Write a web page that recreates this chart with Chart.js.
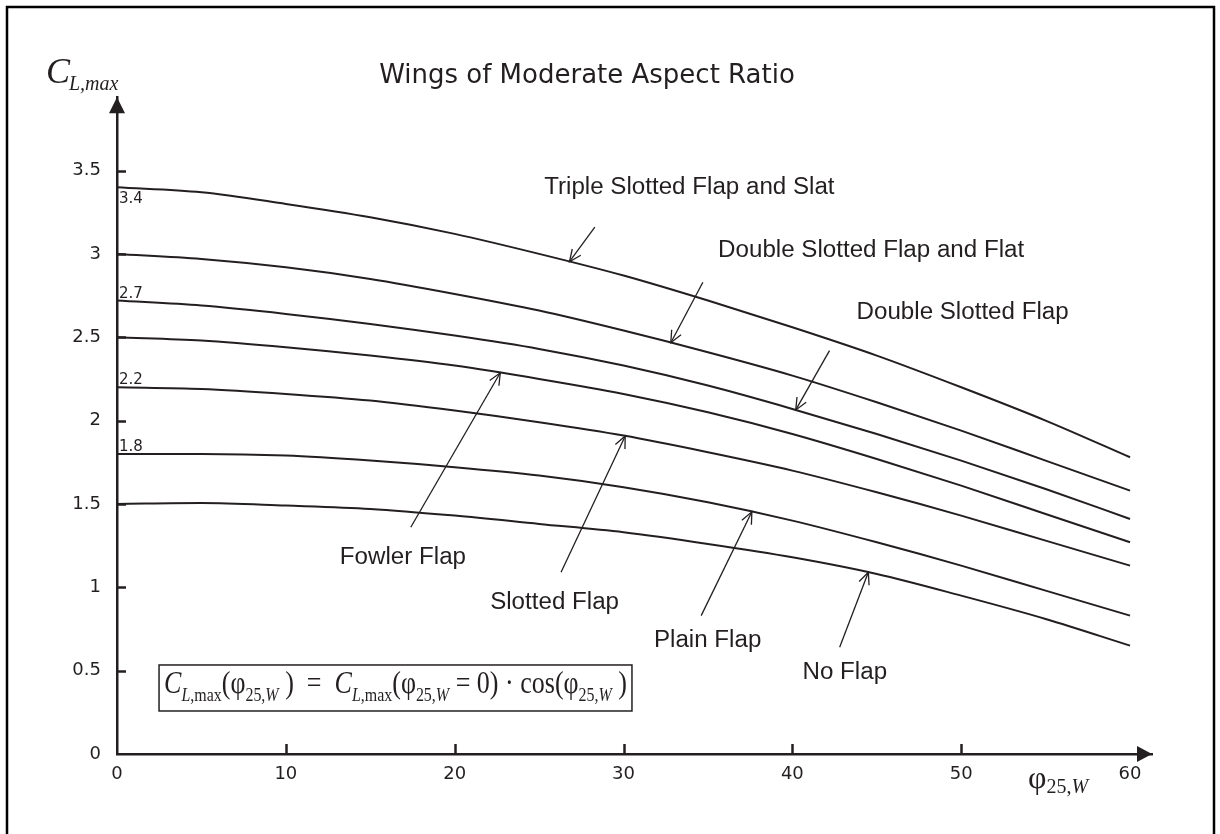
<!DOCTYPE html>
<html><head><meta charset="utf-8">
<script src="https://cdn.jsdelivr.net/npm/chart.js@4/dist/chart.umd.min.js"></script>
<style>html,body{margin:0;padding:0;background:#fff;}canvas{display:block}</style>
</head><body>
<canvas id="c" width="1220" height="834"></canvas>
<script>
// ---------- data ----------
const sweepAngles = [0, 5, 10, 15, 20, 25, 30, 35, 40, 45, 50, 55, 60];
const tripleSlottedFlapAndSlat = [3.40, 3.37, 3.30, 3.22, 3.12, 3.00, 2.87, 2.72, 2.56, 2.39, 2.20, 2.00, 1.78];
const doubleSlottedFlapAndFlat = [3.00, 2.97, 2.92, 2.85, 2.76, 2.66, 2.54, 2.41, 2.27, 2.11, 1.94, 1.76, 1.58];
const doubleSlottedFlap       = [2.72, 2.69, 2.64, 2.58, 2.51, 2.43, 2.33, 2.21, 2.07, 1.92, 1.76, 1.59, 1.41];
const fowlerFlap              = [2.50, 2.48, 2.44, 2.39, 2.33, 2.25, 2.16, 2.05, 1.92, 1.77, 1.61, 1.44, 1.27];
const slottedFlap             = [2.20, 2.19, 2.16, 2.12, 2.06, 1.99, 1.91, 1.81, 1.70, 1.57, 1.43, 1.28, 1.13];
const plainFlap               = [1.80, 1.80, 1.79, 1.76, 1.72, 1.67, 1.60, 1.51, 1.40, 1.27, 1.13, 0.98, 0.83];
const noFlap                  = [1.50, 1.505, 1.49, 1.47, 1.43, 1.38, 1.33, 1.26, 1.18, 1.08, 0.95, 0.81, 0.65];
const seriesNames = ['Triple Slotted Flap and Slat', 'Double Slotted Flap and Flat', 'Double Slotted Flap',
  'Fowler Flap', 'Slotted Flap', 'Plain Flap', 'No Flap'];
const seriesValues = [tripleSlottedFlapAndSlat, doubleSlottedFlapAndFlat, doubleSlottedFlap,
  fowlerFlap, slottedFlap, plainFlap, noFlap];
const xTickValues = [0, 10, 20, 30, 40, 50, 60];
const yTickValues = [0, 0.5, 1, 1.5, 2, 2.5, 3, 3.5];
const startValueLabelSeries = [0, 2, 4, 5];   // curves whose start value is written at the axis
const chartTitle = 'Wings of Moderate Aspect Ratio';

// ---------- styling / layout ----------
const ink = '#231f20';
const sans = '"Liberation Sans", Arial, sans-serif';
const wide = '"DejaVu Sans", sans-serif';
const serif = '"Liberation Serif", "Times New Roman", serif';

// annotation placement (data units): arrow head on the curve at headX, tail at (tailX, tailY), text at (textX, textY)
const annotationLayout = [
  { s: 0, headX: 26.8, tailX: 28.3, tailY: 3.16, textX: 25.3, textY: 3.40 },
  { s: 1, headX: 32.8, tailX: 34.7, tailY: 2.83, textX: 35.6, textY: 3.02 },
  { s: 2, headX: 40.2, tailX: 42.2, tailY: 2.42, textX: 43.8, textY: 2.65 },
  { s: 3, headX: 22.7, tailX: 17.4, tailY: 1.36, textX: 13.2, textY: 1.18 },
  { s: 4, headX: 30.1, tailX: 26.3, tailY: 1.09, textX: 22.1, textY: 0.91 },
  { s: 5, headX: 37.6, tailX: 34.6, tailY: 0.83, textX: 31.8, textY: 0.68 },
  { s: 6, headX: 44.5, tailX: 42.8, tailY: 0.64, textX: 40.6, textY: 0.49 }
];
const formulaBox = { x0: 2.49, x1: 30.5, yTop: 0.534, yBottom: 0.258 };

function interpAt(arr, x) {
  for (let i = 0; i < sweepAngles.length - 1; i++) {
    if (x >= sweepAngles[i] && x <= sweepAngles[i + 1]) {
      const t = (x - sweepAngles[i]) / (sweepAngles[i + 1] - sweepAngles[i]);
      return arr[i] + (arr[i + 1] - arr[i]) * t;
    }
  }
  return arr[arr.length - 1];
}

const datasets = seriesValues.map((vals, i) => ({
  label: seriesNames[i],
  data: sweepAngles.map((a, k) => ({ x: a, y: vals[k] })),
  borderColor: ink, borderWidth: 2, pointRadius: 0, fill: false,
  cubicInterpolationMode: 'monotone'
}));

const decorPlugin = {
  id: 'decor',
  beforeDraw(chart) {
    const ctx = chart.ctx;
    ctx.save(); ctx.fillStyle = '#fff'; ctx.fillRect(0, 0, chart.width, chart.height); ctx.restore();
  },
  afterDraw(chart) {
    const ctx = chart.ctx, xs = chart.scales.x, ys = chart.scales.y, ca = chart.chartArea;
    ctx.save();
    // outer frame
    ctx.strokeStyle = '#000'; ctx.lineWidth = 2.5;
    ctx.strokeRect(7, 7, chart.width - 13, chart.height + 20);
    // arrow heads of the axes
    ctx.fillStyle = ink;
    ctx.beginPath();
    ctx.moveTo(ca.left, ca.top); ctx.lineTo(ca.left - 8, ca.top + 16); ctx.lineTo(ca.left + 8, ca.top + 16); ctx.closePath(); ctx.fill();
    ctx.beginPath();
    ctx.moveTo(ca.right, ca.bottom); ctx.lineTo(ca.right - 15, ca.bottom - 8); ctx.lineTo(ca.right - 15, ca.bottom + 8); ctx.closePath(); ctx.fill();
    // inner tick marks
    ctx.strokeStyle = ink; ctx.lineWidth = 2.5;
    yTickValues.forEach(v => { if (v === 0) return; const y = Math.round(ys.getPixelForValue(v)) + 0.5;
      ctx.beginPath(); ctx.moveTo(ca.left, y); ctx.lineTo(ca.left + 9, y); ctx.stroke(); });
    xTickValues.forEach(v => { if (v === 0 || v === 60) return; const x = Math.round(xs.getPixelForValue(v)) + 0.5;
      ctx.beginPath(); ctx.moveTo(x, ca.bottom); ctx.lineTo(x, ca.bottom - 10); ctx.stroke(); });
    // start value labels
    ctx.fillStyle = ink; ctx.font = '15px ' + wide; ctx.textAlign = 'left';
    startValueLabelSeries.forEach(i => {
      const v = seriesValues[i][0];
      const y = ys.getPixelForValue(v);
      const txt = (Math.round(v * 10) / 10).toFixed(1);
      if (i === 0) { ctx.textBaseline = 'top'; ctx.fillText(txt, ca.left + 2, y + 4); }
      else { ctx.textBaseline = 'alphabetic'; ctx.fillText(txt, ca.left + 2, y - 3); }
    });
    // annotations
    ctx.lineWidth = 1.3; ctx.strokeStyle = ink;
    annotationLayout.forEach(a => {
      const hx = xs.getPixelForValue(a.headX), hy = ys.getPixelForValue(interpAt(seriesValues[a.s], a.headX));
      const tx = xs.getPixelForValue(a.tailX), ty = ys.getPixelForValue(a.tailY);
      ctx.beginPath(); ctx.moveTo(tx, ty); ctx.lineTo(hx, hy); ctx.stroke();
      const ang = Math.atan2(ty - hy, tx - hx), L = 13, sp = 0.42;
      ctx.beginPath();
      ctx.moveTo(hx + L * Math.cos(ang - sp), hy + L * Math.sin(ang - sp));
      ctx.lineTo(hx, hy);
      ctx.lineTo(hx + L * Math.cos(ang + sp), hy + L * Math.sin(ang + sp));
      ctx.stroke();
      ctx.save();
      ctx.font = '23px ' + sans; ctx.textAlign = 'left'; ctx.textBaseline = 'middle';
      ctx.translate(xs.getPixelForValue(a.textX), ys.getPixelForValue(a.textY));
      ctx.scale(1.05, 1);
      ctx.fillText(seriesNames[a.s], 0, 0);
      ctx.restore();
    });
    // y axis title  C_{L,max}
    ctx.textAlign = 'left'; ctx.textBaseline = 'alphabetic';
    ctx.font = 'italic 36px ' + serif; ctx.fillText('C', ca.left - 71, ca.top - 14);
    ctx.font = 'italic 20px ' + serif; ctx.fillText('L,max', ca.left - 48, ca.top - 7);
    // x axis title  φ_{25,W}
    const fx = ca.right - 124;
    ctx.font = '32px ' + serif; ctx.fillText('φ', fx, ca.bottom + 34);
    const px = fx + ctx.measureText('φ').width;
    ctx.font = '20px ' + serif; ctx.fillText('25,', px, ca.bottom + 39);
    const px2 = px + ctx.measureText('25,').width;
    ctx.font = 'italic 20px ' + serif; ctx.fillText('W', px2, ca.bottom + 39);
    // formula box
    const bx0 = xs.getPixelForValue(formulaBox.x0), bx1 = xs.getPixelForValue(formulaBox.x1);
    const by0 = ys.getPixelForValue(formulaBox.yTop), by1 = ys.getPixelForValue(formulaBox.yBottom);
    ctx.lineWidth = 1.5; ctx.strokeRect(bx0, by0, bx1 - bx0, by1 - by0);
    const M = 31, S = 19;
    const segs = [
      ['C', M, 1, 0], ['L', S, 1, 1], [',max', S, 0, 1], ['(', M, 0, 0], ['φ', M, 0, 0], ['25,', S, 0, 1], ['W', S, 1, 1], [' )  =  ', M, 0, 0],
      ['C', M, 1, 0], ['L', S, 1, 1], [',max', S, 0, 1], ['(', M, 0, 0], ['φ', M, 0, 0], ['25,', S, 0, 1], ['W', S, 1, 1], [' = 0)', M, 0, 0],
      [' · cos(', M, 0, 0], ['φ', M, 0, 0], ['25,', S, 0, 1], ['W', S, 1, 1], [' )', M, 0, 0]
    ];
    const fnt = s => (s[2] ? 'italic ' : '') + s[1] + 'px ' + serif;
    let W = 0; segs.forEach(s => { ctx.font = fnt(s); W += ctx.measureText(s[0]).width; });
    const target = (bx1 - bx0) - 10, sx = target / W;
    ctx.translate(bx0 + 5, by0 + 28.5); ctx.scale(sx, 1);
    let cx = 0;
    segs.forEach(s => { ctx.font = fnt(s); ctx.fillText(s[0], cx, s[3] ? 8 : 0); cx += ctx.measureText(s[0]).width; });
    ctx.restore();
  }
};

new Chart(document.getElementById('c'), {
  type: 'line',
  data: { datasets },
  options: {
    responsive: false, animation: false, devicePixelRatio: 1,
    layout: { padding: { left: 22, right: 68, top: 0, bottom: 0 } },
    plugins: {
      legend: { display: false }, tooltip: { enabled: false },
      title: { display: true, text: chartTitle, color: ink,
        font: { family: wide, size: 26, weight: 'normal', lineHeight: 1.2 },
        padding: { top: 61, bottom: 5 } }
    },
    scales: {
      x: { type: 'linear', min: 0, max: 61.3,
        afterBuildTicks: s => { s.ticks = xTickValues.map(v => ({ value: v })); },
        afterFit: s => { s.height = 80; },
        ticks: { autoSkip: false, maxRotation: 0, padding: 10, color: ink, font: { family: wide, size: 18 }, callback: v => String(v) },
        grid: { display: false, drawTicks: false },
        border: { display: true, color: ink, width: 2.5 } },
      y: { type: 'linear', min: 0, max: 3.94,
        afterBuildTicks: s => { s.ticks = yTickValues.map(v => ({ value: v })); },
        afterFit: s => { s.width = 95; },
        ticks: { autoSkip: false, padding: 16, color: ink, font: { family: wide, size: 18 }, callback: v => String(v) },
        grid: { display: false, drawTicks: false },
        border: { display: true, color: ink, width: 2.5 } }
    }
  },
  plugins: [decorPlugin]
});
</script>
</body></html>
